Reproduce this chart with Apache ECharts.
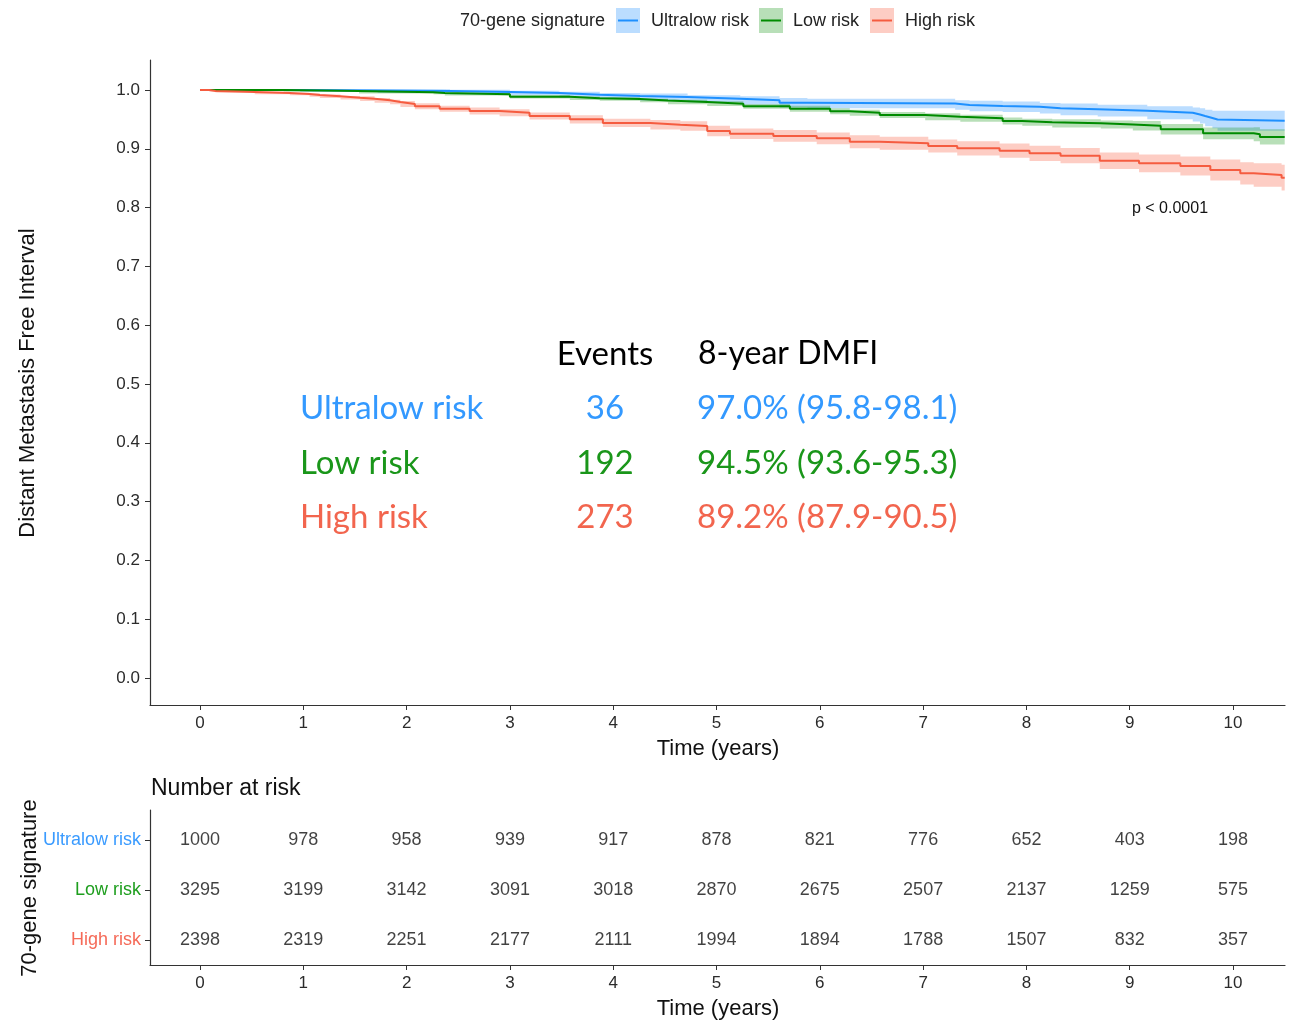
<!DOCTYPE html>
<html>
<head>
<meta charset="utf-8">
<script src="https://cdn.jsdelivr.net/npm/echarts@6/dist/echarts.min.js"></script>
<style>html,body{margin:0;padding:0;background:#fff}#c{width:1294px;height:1030px}</style>
</head>
<body>
<div id="c"></div>
<script>
const groups = ['Ultralow risk', 'Low risk', 'High risk'];
const timeTicks = [0, 1, 2, 3, 4, 5, 6, 7, 8, 9, 10];
const survTicks = [0, 0.1, 0.2, 0.3, 0.4, 0.5, 0.6, 0.7, 0.8, 0.9, 1.0];

const ultralowTime = [0, 0.97, 1.72, 2.42, 3.00, 3.48, 3.87, 4.26, 4.72, 5.23, 5.61, 5.88, 7.31, 7.45, 7.77, 8.13, 8.33, 8.69, 9.17, 9.61, 9.68, 9.73, 9.80, 9.85, 10.5];
const ultralowSurv = [1.000, 0.9991, 0.9983, 0.9966, 0.9949, 0.9920, 0.9898, 0.9881, 0.9852, 0.9825, 0.9784, 0.9770, 0.9745, 0.9728, 0.9716, 0.9689, 0.9672, 0.9648, 0.9614, 0.9583, 0.9558, 0.9524, 0.9498, 0.9478, 0.9478];
const ultralowCI = [0, 0.002, 0.003, 0.004, 0.004, 0.005, 0.005, 0.006, 0.006, 0.007, 0.008, 0.008, 0.008, 0.009, 0.009, 0.009, 0.010, 0.010, 0.011, 0.012, 0.013, 0.014, 0.015, 0.017, 0.017];

const lowTime = [0, 0.81, 1.54, 2.26, 2.37, 3.00, 3.58, 3.87, 4.26, 4.53, 4.91, 5.26, 5.71, 6.10, 6.29, 6.58, 7.02, 7.36, 7.77, 7.96, 8.25, 8.72, 9.03, 9.30, 9.71, 10.20, 10.26, 10.5];
const lowSurv = [1.000, 0.9983, 0.9961, 0.9949, 0.9927, 0.9886, 0.9859, 0.9847, 0.9821, 0.9796, 0.9767, 0.9723, 0.9682, 0.9638, 0.9614, 0.9575, 0.9546, 0.9519, 0.9473, 0.9451, 0.9434, 0.9413, 0.9393, 0.9332, 0.9264, 0.9247, 0.9201, 0.9201];
const lowCI = [0, 0.001, 0.002, 0.002, 0.002, 0.003, 0.003, 0.003, 0.003, 0.004, 0.004, 0.004, 0.005, 0.005, 0.005, 0.005, 0.006, 0.006, 0.006, 0.006, 0.007, 0.007, 0.008, 0.009, 0.010, 0.012, 0.013, 0.013];

const highTime = [0, 0.09, 0.15, 0.53, 0.87, 1.06, 1.16, 1.36, 1.55, 1.69, 1.84, 1.94, 2.08, 2.32, 2.61, 2.90, 3.19, 3.58, 3.90, 4.36, 4.65, 4.91, 5.13, 5.55, 5.97, 6.29, 6.58, 7.05, 7.33, 7.74, 8.03, 8.33, 8.71, 9.09, 9.49, 9.78, 10.07, 10.20, 10.47, 10.5];
const highSurv = [1.000, 0.9983, 0.9966, 0.9949, 0.9932, 0.9915, 0.9893, 0.9869, 0.9852, 0.9825, 0.9796, 0.9762, 0.9723, 0.9682, 0.9643, 0.9614, 0.9558, 0.9502, 0.9439, 0.9410, 0.9388, 0.9303, 0.9257, 0.9218, 0.9179, 0.9121, 0.9094, 0.9048, 0.9008, 0.8968, 0.8923, 0.8883, 0.8798, 0.8753, 0.8707, 0.8639, 0.8583, 0.8554, 0.8509, 0.8509];
const highCI = [0, 0.001, 0.001, 0.002, 0.002, 0.003, 0.003, 0.003, 0.004, 0.004, 0.004, 0.005, 0.005, 0.005, 0.006, 0.006, 0.006, 0.007, 0.007, 0.008, 0.008, 0.009, 0.009, 0.010, 0.010, 0.011, 0.011, 0.011, 0.012, 0.012, 0.013, 0.013, 0.014, 0.015, 0.016, 0.018, 0.019, 0.020, 0.022, 0.022];

const riskUltralow = [1000, 978, 958, 939, 917, 878, 821, 776, 652, 403, 198];
const riskLow = [3295, 3199, 3142, 3091, 3018, 2870, 2675, 2507, 2137, 1259, 575];
const riskHigh = [2398, 2319, 2251, 2177, 2111, 1994, 1894, 1788, 1507, 832, 357];

const events = [36, 192, 273];
const dmfi8 = ['97.0% (95.8-98.1)', '94.5% (93.6-95.3)', '89.2% (87.9-90.5)'];
const pText = 'p < 0.0001';

const lineColors = ['#1E90FF', '#008B00', '#F55C40'];
const bandColors = ['rgba(30,144,255,0.30)', 'rgba(0,139,0,0.28)', 'rgba(250,90,60,0.30)'];
const textColors = ['#3399FF', '#1A961A', '#F2654E'];

const curves = [
  {t: ultralowTime, s: ultralowSurv, ci: ultralowCI},
  {t: lowTime, s: lowSurv, ci: lowCI},
  {t: highTime, s: highSurv, ci: highCI}
];
const riskRows = [riskUltralow, riskLow, riskHigh];

const chart = echarts.init(document.getElementById('c'), null, {renderer: 'canvas'});
const axisCol = '#333';
const tickTxt = '#2b2b2b';
const FONT = '"Liberation Sans", Arial, sans-serif';

const bandSeries = curves.map((c, gi) => ({
  type: 'custom',
  xAxisIndex: 0, yAxisIndex: 0,
  silent: true,
  z: 1,
  data: [[gi]],
  renderItem: function (params, api) {
    const pts = [];
    for (let i = 0; i < c.t.length - 1; i++) {
      const hi = c.s[i] + c.ci[i];
      pts.push(api.coord([c.t[i], hi]));
      pts.push(api.coord([c.t[i + 1], hi]));
    }
    for (let i = c.t.length - 2; i >= 0; i--) {
      const lo = c.s[i] - c.ci[i];
      pts.push(api.coord([c.t[i + 1], lo]));
      pts.push(api.coord([c.t[i], lo]));
    }
    return {type: 'polygon', shape: {points: pts}, style: {fill: bandColors[gi]}};
  }
}));

const lineSeries = curves.map((c, gi) => ({
  type: 'line',
  name: groups[gi],
  xAxisIndex: 0, yAxisIndex: 0,
  step: 'end',
  symbol: 'none',
  silent: true,
  z: 3,
  lineStyle: {color: lineColors[gi], width: 2},
  data: c.t.map((t, i) => [t, c.s[i]])
}));

const tableSeries = {
  type: 'scatter',
  xAxisIndex: 1, yAxisIndex: 1,
  symbolSize: 1,
  itemStyle: {color: 'rgba(0,0,0,0)'},
  silent: true,
  label: {
    show: true, position: 'inside',
    formatter: p => String(p.value[2]),
    color: '#111', fontSize: 18, fontFamily: FONT
  },
  data: riskRows.flatMap((row, gi) => row.map((v, i) => [timeTicks[i], gi, v]))
};

const bigFont = 'Lato, "Open Sans", sans-serif';
const graphics = [];
const legendItems = [
  {box: 616, text: 651},
  {box: 759, text: 793},
  {box: 870, text: 905}
];
graphics.push({type: 'text', x: 605, y: 21, style: {text: '70-gene signature', font: '18px ' + FONT, fill: '#222', textAlign: 'right', textVerticalAlign: 'middle'}});
legendItems.forEach((it, gi) => {
  graphics.push({type: 'rect', shape: {x: it.box, y: 8, width: 24, height: 25}, style: {fill: bandColors[gi]}});
  graphics.push({type: 'line', shape: {x1: it.box + 2, y1: 20.5, x2: it.box + 22, y2: 20.5}, style: {stroke: lineColors[gi], lineWidth: 2}});
  graphics.push({type: 'text', x: it.text, y: 21, style: {text: groups[gi], font: '18px ' + FONT, fill: '#222', textAlign: 'left', textVerticalAlign: 'middle'}});
});
graphics.push({type: 'text', x: 28, y: 383, rotation: Math.PI / 2, style: {text: 'Distant Metastasis Free Interval', font: '22px ' + FONT, fill: '#111', textAlign: 'center', textVerticalAlign: 'middle'}});
graphics.push({type: 'text', x: 718, y: 749, style: {text: 'Time (years)', font: '22px ' + FONT, fill: '#111', textAlign: 'center', textVerticalAlign: 'middle'}});
graphics.push({type: 'text', x: 718, y: 1009, style: {text: 'Time (years)', font: '22px ' + FONT, fill: '#111', textAlign: 'center', textVerticalAlign: 'middle'}});
graphics.push({type: 'text', x: 30, y: 888, rotation: Math.PI / 2, style: {text: '70-gene signature', font: '22px ' + FONT, fill: '#111', textAlign: 'center', textVerticalAlign: 'middle'}});
graphics.push({type: 'text', x: 151, y: 789, style: {text: 'Number at risk', font: '23px ' + FONT, fill: '#111', textAlign: 'left', textVerticalAlign: 'middle'}});
graphics.push({type: 'text', x: 1170, y: 209, style: {text: pText, font: '16px ' + FONT, fill: '#111', textAlign: 'center', textVerticalAlign: 'middle'}});
graphics.push({type: 'text', x: 605, y: 354, style: {text: 'Events', font: '33px ' + bigFont, fill: '#000', textAlign: 'center', textVerticalAlign: 'middle'}});
graphics.push({type: 'text', x: 698, y: 354, style: {text: '8-year DMFI', font: '32px ' + bigFont, fill: '#000', textAlign: 'left', textVerticalAlign: 'middle'}});
const rowY = [408, 463, 517];
groups.forEach((g, gi) => {
  graphics.push({type: 'text', x: 300, y: rowY[gi], style: {text: g, font: '33px ' + bigFont, fill: textColors[gi], textAlign: 'left', textVerticalAlign: 'middle'}});
  graphics.push({type: 'text', x: 605, y: rowY[gi], style: {text: String(events[gi]), font: '33px ' + bigFont, fill: textColors[gi], textAlign: 'center', textVerticalAlign: 'middle'}});
  graphics.push({type: 'text', x: 697, y: rowY[gi], style: {text: dmfi8[gi], font: '33px ' + bigFont, fill: textColors[gi], textAlign: 'left', textVerticalAlign: 'middle'}});
});

const rowRich = {
  g0: {color: '#3A9BFF', fontSize: 18, fontFamily: FONT},
  g1: {color: '#1E9E1E', fontSize: 18, fontFamily: FONT},
  g2: {color: '#F56A58', fontSize: 18, fontFamily: FONT}
};

const option = {
  animation: false,
  backgroundColor: '#fff',
  textStyle: {fontFamily: FONT},
  grid: [
    {left: 150, right: 9, top: 60, height: 645, containLabel: false},
    {left: 150, right: 9, top: 810, height: 155, containLabel: false}
  ],
  xAxis: [
    {
      type: 'value', gridIndex: 0, min: -0.484, max: 10.503,
      splitLine: {show: false},
      axisLine: {show: true, onZero: false, lineStyle: {color: axisCol, width: 1.2}},
      axisTick: {show: true, length: 5, customValues: timeTicks, lineStyle: {color: axisCol}},
      axisLabel: {customValues: timeTicks, margin: 10, fontSize: 17, color: tickTxt, fontFamily: FONT}
    },
    {
      type: 'value', gridIndex: 1, min: -0.484, max: 10.503,
      splitLine: {show: false},
      axisLine: {show: true, onZero: false, lineStyle: {color: axisCol, width: 1.2}},
      axisTick: {show: true, length: 5, customValues: timeTicks, lineStyle: {color: axisCol}},
      axisLabel: {customValues: timeTicks, margin: 10, fontSize: 17, color: tickTxt, fontFamily: FONT}
    }
  ],
  yAxis: [
    {
      type: 'value', gridIndex: 0, min: -0.0459, max: 1.051,
      splitLine: {show: false},
      axisLine: {show: true, onZero: false, lineStyle: {color: axisCol, width: 1.2}},
      axisTick: {show: true, length: 5, customValues: survTicks, lineStyle: {color: axisCol}},
      axisLabel: {customValues: survTicks, margin: 10, fontSize: 17, color: tickTxt, fontFamily: FONT, formatter: v => v.toFixed(1)}
    },
    {
      type: 'value', gridIndex: 1, min: -0.6, max: 2.5, inverse: true,
      splitLine: {show: false},
      axisLine: {show: true, onZero: false, lineStyle: {color: axisCol, width: 1.2}},
      axisTick: {show: true, length: 5, customValues: [0, 1, 2], lineStyle: {color: axisCol}},
      axisLabel: {customValues: [0, 1, 2], margin: 9, rich: rowRich, formatter: v => '{g' + Math.round(v) + '|' + groups[Math.round(v)] + '}'}
    }
  ],
  graphic: graphics,
  series: [...bandSeries, ...lineSeries, tableSeries]
};
chart.setOption(option);
</script>
</body>
</html>
